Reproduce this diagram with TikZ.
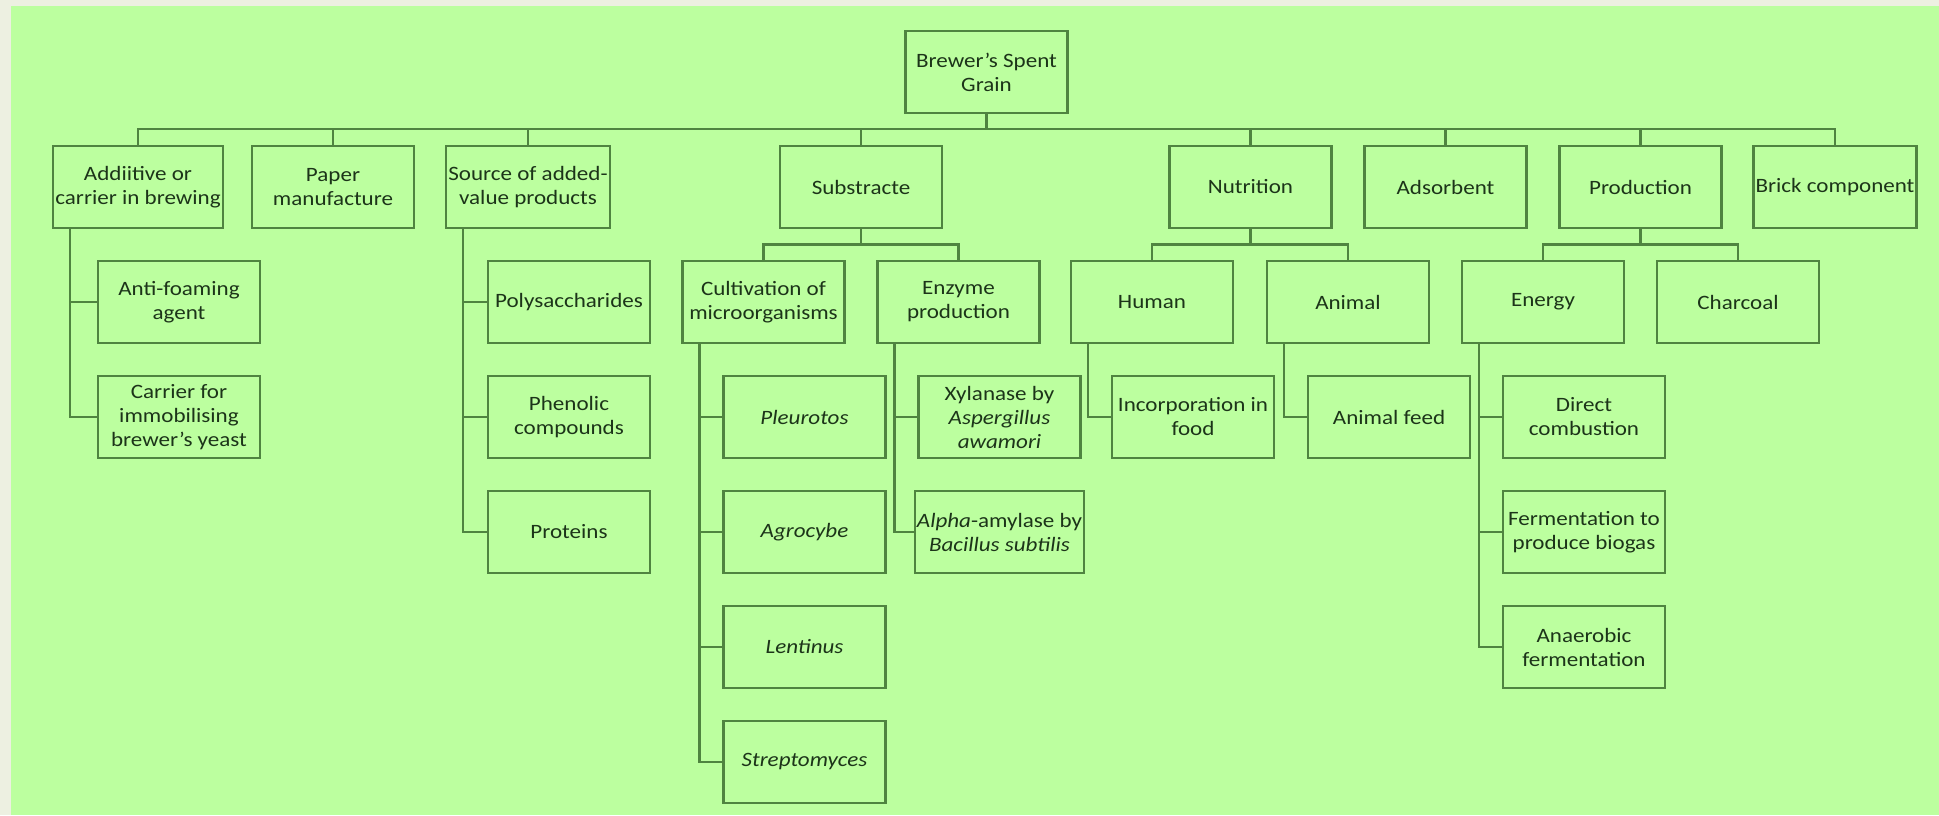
\documentclass[tikz,border=0pt]{standalone}
\usepackage{fontspec}
\setmainfont{Carlito}[FakeStretch=1.13]
\usepackage{tikz}
\usetikzlibrary{positioning}
\definecolor{bsggreen}{HTML}{BCFF9F}
\definecolor{bsgframe}{HTML}{EDF0E1}
\definecolor{bsgline}{HTML}{4F8440}
\definecolor{bsgtext}{HTML}{1C3419}
\tikzset{
  usebox/.style={draw=bsgline, line width=1.1pt, minimum width=81pt, minimum height=41pt, inner sep=1pt, outer sep=0pt, align=center, text=bsgtext},
  link/.style={draw=bsgline, line width=1.1pt}
}

\begin{document}
\begin{tikzpicture}[x=0.5pt, y=-0.5pt, node distance=16.5pt, font=\fontsize{10.2pt}{12pt}\selectfont]
  \fill[bsgframe] (0,0) rectangle (1939,815);
  \fill[bsggreen] (11,6) rectangle (1939,815);
  \useasboundingbox (0,0) rectangle (1939,815);

  % root and first level
  \node[usebox] (bsg) at (986.5,72) {Brewer's Spent\\Grain};
  \node[usebox] (brew) at (138,187) {Addiitive or\\carrier in brewing};
  \node[usebox] (paper) at (333,187) {Paper\\manufacture};
  \node[usebox] (source) at (528,187) {Source of added-\\value products};
  \node[usebox] (subst) at (861,187) {Substracte};
  \node[usebox] (nutri) at (1250.5,187) {Nutrition};
  \node[usebox] (adsorb) at (1445.5,187) {Adsorbent};
  \node[usebox] (prod) at (1640.5,187) {Production};
  \node[usebox] (brick) at (1835,187) {Brick component};

  % brewing
  \node[usebox, below=of brew, xshift=20.5pt] (foam) {Anti-foaming\\agent};
  \node[usebox, below=of foam] (carrier) {Carrier for\\immobilising\\brewer's yeast};

  % added-value products
  \node[usebox, below=of source, xshift=20.5pt] (poly) {Polysaccharides};
  \node[usebox, below=of poly] (phenol) {Phenolic\\compounds};
  \node[usebox, below=of phenol] (protein) {Proteins};

  % substrate
  \node[usebox, below=of subst, xshift=-48.75pt] (cultiv) {Cultivation of\\microorganisms};
  \node[usebox, below=of subst, xshift=48.75pt] (enzyme) {Enzyme\\production};
  \node[usebox, below=of cultiv, xshift=20.5pt] (pleur) {\textit{Pleurotos}};
  \node[usebox, below=of pleur] (agro) {\textit{Agrocybe}};
  \node[usebox, below=of agro] (lent) {\textit{Lentinus}};
  \node[usebox, below=of lent] (strep) {\textit{Streptomyces}};
  \node[usebox, below=of enzyme, xshift=20.5pt] (xyl) {Xylanase by\\\textit{Aspergillus}\\\textit{awamori}};
  \node[usebox, below=of xyl] (alpha) {\textit{Alpha}-amylase by\\\textit{Bacillus subtilis}};

  % nutrition
  \node[usebox, below=of nutri, xshift=-49.25pt] (human) {Human};
  \node[usebox, below=of nutri, xshift=48.75pt] (animal) {Animal};
  \node[usebox, below=of human, xshift=20.5pt] (food) {Incorporation in\\food};
  \node[usebox, below=of animal, xshift=20.5pt] (feed) {Animal feed};

  % production
  \node[usebox, below=of prod, xshift=-48.75pt] (energy) {Energy};
  \node[usebox, below=of prod, xshift=48.75pt] (coal) {Charcoal};
  \node[usebox, below=of energy, xshift=20.5pt] (combust) {Direct\\combustion};
  \node[usebox, below=of combust] (biogas) {Fermentation to\\produce biogas};
  \node[usebox, below=of biogas] (anaer) {Anaerobic\\fermentation};

  % main bus
  \coordinate (bus) at ([yshift=-8pt]bsg.south);
  \draw[link] (bsg.south) -- (bus);
  \draw[link] (bus) -| (brew.north);
  \draw[link] (bus) -| (paper.north);
  \draw[link] (bus) -| (source.north);
  \draw[link] (bus) -| (subst.north);
  \draw[link] (bus) -| (nutri.north);
  \draw[link] (bus) -| (adsorb.north);
  \draw[link] (bus) -| (prod.north);
  \draw[link] (bus) -| (brick.north);

  % second level forks
  \coordinate (substBus) at ([yshift=-8.25pt]subst.south);
  \draw[link] (subst.south) -- (substBus);
  \draw[link] (substBus) -| (cultiv.north);
  \draw[link] (substBus) -| (enzyme.north);
  \coordinate (nutriBus) at ([yshift=-8.25pt]nutri.south);
  \draw[link] (nutri.south) -- (nutriBus);
  \draw[link] (nutriBus) -| (human.north);
  \draw[link] (nutriBus) -| (animal.north);
  \coordinate (prodBus) at ([yshift=-8.25pt]prod.south);
  \draw[link] (prod.south) -- (prodBus);
  \draw[link] (prodBus) -| (energy.north);
  \draw[link] (prodBus) -| (coal.north);

  % side branches
  \draw[link] ([xshift=8.5pt]brew.south west) |- (carrier.west);
  \draw[link] ([xshift=8.5pt]brew.south west) |- (foam.west);
  \draw[link] ([xshift=8.5pt]source.south west) |- (protein.west);
  \draw[link] ([xshift=8.5pt]source.south west) |- (phenol.west);
  \draw[link] ([xshift=8.5pt]source.south west) |- (poly.west);
  \draw[link] ([xshift=8.5pt]cultiv.south west) |- (strep.west);
  \draw[link] ([xshift=8.5pt]cultiv.south west) |- (lent.west);
  \draw[link] ([xshift=8.5pt]cultiv.south west) |- (agro.west);
  \draw[link] ([xshift=8.5pt]cultiv.south west) |- (pleur.west);
  \draw[link] ([xshift=8.5pt]enzyme.south west) |- (alpha.west);
  \draw[link] ([xshift=8.5pt]enzyme.south west) |- (xyl.west);
  \draw[link] ([xshift=8.5pt]human.south west) |- (food.west);
  \draw[link] ([xshift=8.5pt]animal.south west) |- (feed.west);
  \draw[link] ([xshift=8.5pt]energy.south west) |- (anaer.west);
  \draw[link] ([xshift=8.5pt]energy.south west) |- (biogas.west);
  \draw[link] ([xshift=8.5pt]energy.south west) |- (combust.west);
\end{tikzpicture}
\end{document}
